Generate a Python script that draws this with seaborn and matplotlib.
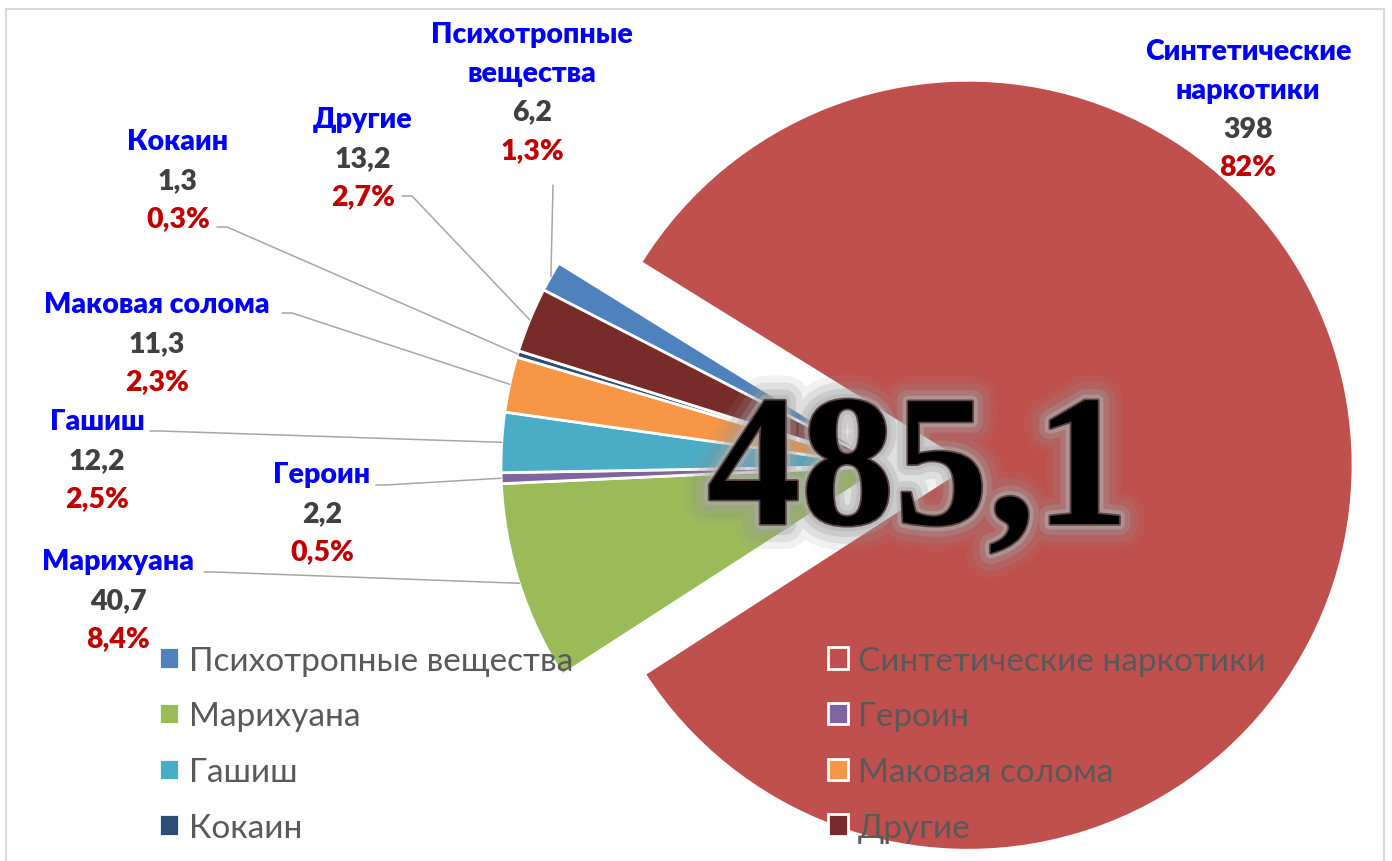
import matplotlib
matplotlib.use("Agg")
import matplotlib.pyplot as plt
import matplotlib.patheffects as pe
from matplotlib.patches import Rectangle
import numpy as np
import seaborn as sns

# --- data -------------------------------------------------------------
categories = ["Психотропные вещества", "Синтетические наркотики", "Марихуана", "Героин",
              "Гашиш", "Маковая солома", "Кокаин", "Другие"]
label_names = ["Психотропные\nвещества", "Синтетические\nнаркотики", "Марихуана", "Героин",
               "Гашиш", "Маковая солома", "Кокаин", "Другие"]
values = [6.2, 398, 40.7, 2.2, 12.2, 11.3, 1.3, 13.2]
colors = ["#4F81BD", "#C0504D", "#9BBB59", "#8064A2",
          "#4BACC6", "#F79646", "#2C4D75", "#772C2A"]

# --- layout (pixel coords, origin top-left) ----------------------------
W, H = 1392, 862
pie_center = (886, 467)
pie_radius = 385
explode = [0, 82, 0, 0, 0, 0, 0, 0]   # pie() takes data units here
label_xy = [(532, 35), (1248, 52), (118, 562), (322, 475),
            (97, 422), (157, 305), (178, 142), (363, 120)]
leader_start = [(553, 186), None, (204, 573), (376, 486),
                (150, 432), (282, 314), (217, 228), (402, 197)]
line_step = 38.8

sns.set_theme(style="white")
plt.rcParams["font.family"] = ["Lato", "DejaVu Sans"]

fig = plt.figure(figsize=(W / 100, H / 100), dpi=100)
ax = fig.add_axes([0, 0, 1, 1])

def fy(y):
    return H - y

total = sum(values)
pal = sns.color_palette(colors)

wedges, _ = ax.pie(values, colors=pal, startangle=152.8, counterclock=False,
                   explode=explode, center=(pie_center[0], fy(pie_center[1])),
                   radius=pie_radius,
                   wedgeprops=dict(edgecolor="white", linewidth=2))
ax.set_xlim(0, W)
ax.set_ylim(0, H)
ax.set_aspect("equal")
ax.axis("off")

# chart border
ax.add_patch(Rectangle((6, -20), W - 8 - 6, fy(10) + 20, fill=False,
                       edgecolor="#D9D9D9", linewidth=1.5, zorder=0))

def fmt_val(v):
    return f"{v:g}".replace(".", ",")

def fmt_pct(v):
    s = f"{v / total * 100:.1f}"
    if s.endswith(".0"):
        s = s[:-2]
    return s.replace(".", ",") + "%"

lab_kw = dict(ha="center", va="center", fontsize=20.5, fontweight="heavy")
for i, w in enumerate(wedges):
    x, y = label_xy[i]
    lines = label_names[i].split("\n")
    for j, ln in enumerate(lines):
        ax.text(x, fy(y + j * line_step), ln, color="#0000FF", **lab_kw)
    k = len(lines)
    ax.text(x, fy(y + k * line_step), fmt_val(values[i]), color="#404040", **lab_kw)
    ax.text(x, fy(y + (k + 1) * line_step), fmt_pct(values[i]), color="#C00000", **lab_kw)

    if leader_start[i] is not None:
        mid = np.deg2rad((w.theta1 + w.theta2) / 2)
        ex = w.center[0] + w.r * np.cos(mid)
        ey = w.center[1] + w.r * np.sin(mid)
        sx, sy = leader_start[i]
        if i == 0:
            xs, ys = [sx, ex], [fy(sy), ey]
        else:
            xs, ys = [sx, sx + 10, ex], [fy(sy), fy(sy), ey]
        ax.plot(xs, ys, color="#A6A6A6", linewidth=1.1, zorder=1)

# legend, two columns filled column-wise
order = [0, 2, 4, 6, 1, 3, 5, 7]
leg = fig.legend([wedges[i] for i in order], [categories[i] for i in order],
                 ncol=2, loc="upper left", bbox_to_anchor=(142 / W, 1 - 630 / H),
                 frameon=False, fontsize=24, labelcolor="#595959",
                 handlelength=0.6, handleheight=0.6, handletextpad=0.3,
                 columnspacing=7.65, labelspacing=0.77, borderpad=0)

# total in the middle
fig.text(918 / W, 1 - 525 / H, f"{total:.1f}".replace(".", ","),
         ha="center", va="baseline", fontsize=135, fontweight="bold",
         family="Liberation Serif", color="black",
         path_effects=[pe.Stroke(linewidth=36, foreground="#909090", alpha=0.12),
                       pe.Stroke(linewidth=26, foreground="#909090", alpha=0.18),
                       pe.Stroke(linewidth=16, foreground="#a0a0a0", alpha=0.3),
                       pe.Stroke(linewidth=8, foreground="#b0b0b0", alpha=0.5),
                       pe.Stroke(linewidth=2.5, foreground="#5c4545"),
                       pe.Normal()])

fig.savefig("out.png", dpi=100)
